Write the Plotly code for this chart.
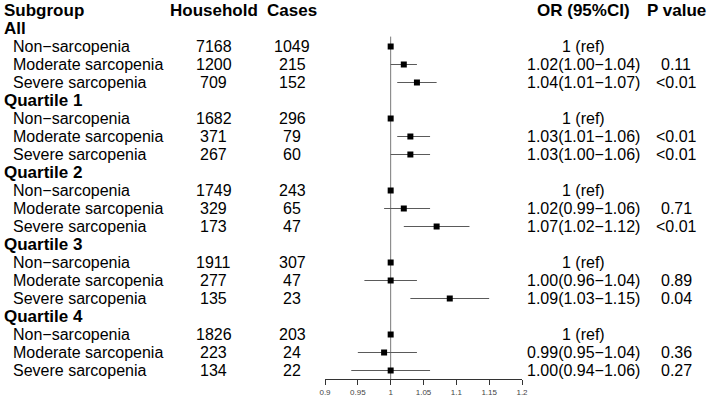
import plotly.graph_objects as go

# ---------------- data ----------------
groups = ["All", "Quartile 1", "Quartile 2", "Quartile 3", "Quartile 4"]
levels = ["Non\u2212sarcopenia", "Moderate sarcopenia", "Severe sarcopenia"]
household = [[7168, 1200, 709], [1682, 371, 267], [1749, 329, 173], [1911, 277, 135], [1826, 223, 134]]
cases = [[1049, 215, 152], [296, 79, 60], [243, 65, 47], [307, 47, 23], [203, 24, 22]]
or_vals = [[1, 1.02, 1.04], [1, 1.03, 1.03], [1, 1.02, 1.07], [1, 1.00, 1.09], [1, 0.99, 1.00]]
lower = [[1, 1.00, 1.01], [1, 1.01, 1.00], [1, 0.99, 1.02], [1, 0.96, 1.03], [1, 0.95, 0.94]]
upper = [[1, 1.04, 1.07], [1, 1.06, 1.06], [1, 1.06, 1.12], [1, 1.04, 1.15], [1, 1.04, 1.06]]
p_values = [["", "0.11", "<0.01"], ["", "<0.01", "<0.01"], ["", "0.71", "<0.01"],
            ["", "0.89", "0.04"], ["", "0.36", "0.27"]]
headers = ["Subgroup", "Household", "Cases", "OR (95%CI)", "P value"]
tick_vals = [0.9, 0.95, 1.0, 1.05, 1.1, 1.15, 1.2]
tick_text = ["0.9", "0.95", "1", "1.05", "1.1", "1.15", "1.2"]

# ---------------- layout constants ----------------
W, H = 709, 400
BOTTOM = 21
PLOT_H = H - BOTTOM
ROW_PX = 18.0
TOP_PX = 10.5
y_top = TOP_PX / ROW_PX
y_bot = y_top - PLOT_H / ROW_PX

FONT = "Liberation Sans, Arial, sans-serif"
REG = 16
BOLD = 17
TXT = "#000000"

col_sub_group = 2 / W
col_sub_item = 11 / W
col_house = 214 / W
col_cases = 292 / W
col_or = 583 / W
col_p = 676 / W

annotations = []


def add_text(x, y, text, anchor="center", bold=False):
    annotations.append(dict(
        x=x, y=y, xref="paper", yref="y", text=("<b>%s</b>" % text) if bold else text,
        showarrow=False, xanchor=anchor, yanchor="middle",
        font=dict(family=FONT, size=BOLD if bold else REG, color=TXT),
    ))


# headers
add_text(col_sub_group, 0, headers[0], "left", True)
add_text(col_house, 0, headers[1], "center", True)
add_text(col_cases, 0, headers[2], "center", True)
add_text(col_or, 0, headers[3], "center", True)
add_text(col_p, 0, headers[4], "center", True)

ci_x, ci_y, pt_x, pt_y = [], [], [], []
row = 0
for g, gname in enumerate(groups):
    row += 1
    add_text(col_sub_group, -row, gname, "left", True)
    for k, lev in enumerate(levels):
        row += 1
        y = -row
        add_text(col_sub_item, y, lev, "left")
        add_text(col_house, y, str(household[g][k]))
        add_text(col_cases, y, str(cases[g][k]))
        if lower[g][k] == upper[g][k]:
            or_txt = "1 (ref)"
        else:
            or_txt = "%.2f(%.2f\u2212%.2f)" % (or_vals[g][k], lower[g][k], upper[g][k])
        add_text(col_or, y, or_txt)
        if p_values[g][k]:
            add_text(col_p, y, p_values[g][k].replace("<", "&lt;"))
        ci_x += [lower[g][k], upper[g][k], None]
        ci_y += [y, y, None]
        pt_x.append(or_vals[g][k])
        pt_y.append(y)

fig = go.Figure()
fig.add_trace(go.Scatter(x=ci_x, y=ci_y, mode="lines",
                         line=dict(color="#5a5a5a", width=1), hoverinfo="skip"))
fig.add_trace(go.Scatter(x=pt_x, y=pt_y, mode="markers",
                         marker=dict(symbol="square", size=6, color="#000000"),
                         hoverinfo="skip"))

# reference line at OR = 1
fig.add_shape(type="line", x0=1, x1=1, y0=-1.45, y1=y_bot, xref="x", yref="y",
              line=dict(color="#7a7a7a", width=1), layer="below")

fig.update_layout(
    width=W, height=H,
    margin=dict(l=0, r=0, t=0, b=BOTTOM, pad=0, autoexpand=False),
    paper_bgcolor="white", plot_bgcolor="white",
    showlegend=False,
    annotations=annotations,
    xaxis=dict(domain=[325 / W, 522 / W], range=[0.9, 1.2], tickvals=tick_vals,
               ticktext=tick_text, showgrid=False, zeroline=False, automargin=False,
               showline=True, linecolor="#333333", linewidth=1,
               ticks="outside", ticklen=5, tickcolor="#333333", tickwidth=1,
               tickfont=dict(family=FONT, size=8, color="#444444")),
    yaxis=dict(range=[y_bot, y_top], visible=False, showgrid=False, zeroline=False,
               automargin=False),
)

fig.write_html("out.html", config={"displayModeBar": False},
               post_script="document.body.style.margin='0';document.body.style.padding='0';")
